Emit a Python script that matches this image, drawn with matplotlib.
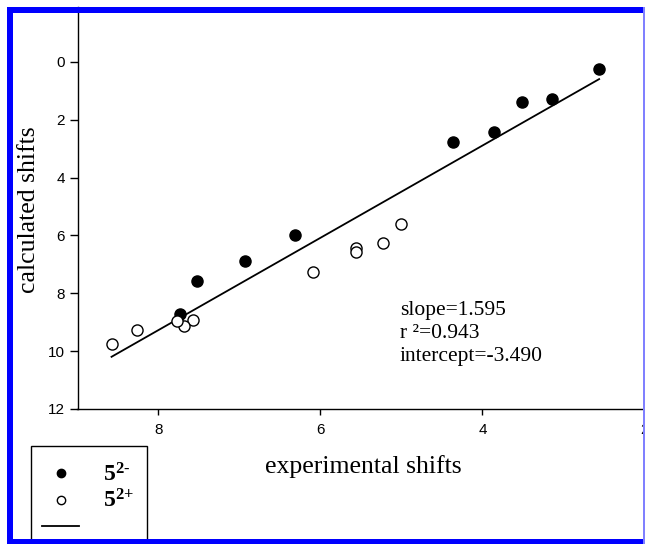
import numpy as np
import matplotlib
matplotlib.use("Agg")
import matplotlib.pyplot as plt
from matplotlib.lines import Line2D
from matplotlib.patches import Rectangle

# --- data ---
dianion_exp = [2.56, 3.14, 3.51, 3.86, 4.36, 6.31, 6.93, 7.53, 7.73]
dianion_calc = [0.23, 1.28, 1.38, 2.42, 2.78, 5.99, 6.89, 7.58, 8.72]

dication_exp = [5.00, 5.23, 5.56, 5.56, 6.09, 7.57, 7.68, 7.77, 8.27, 8.58]
dication_calc = [5.60, 6.27, 6.45, 6.56, 7.27, 8.92, 9.13, 8.97, 9.27, 9.75]

slope = 1.595
r_squared = 0.943
intercept = -3.490

x_ticks = [8, 6, 4, 2]
y_ticks = [0, 2, 4, 6, 8, 10, 12]

serif = "Liberation Serif"
plt.rcParams["mathtext.fontset"] = "custom"
plt.rcParams["mathtext.rm"] = serif
plt.rcParams["mathtext.bf"] = serif + ":bold"

W, H = 645, 544
fig = plt.figure(figsize=(W / 100, H / 100), dpi=100)
fig.patch.set_facecolor("white")

# axes placed in pixel terms of the reference
left, right = 77.5, 644.5
bottom, top = 409, 7
ax = fig.add_axes([left / W, 1 - bottom / H, (right - left) / W, (bottom - top) / H])

all_x = dianion_exp + dication_exp
fit_x = np.array([min(all_x), max(all_x)])
fit_y = slope * fit_x + intercept

ax.plot(fit_x, fit_y, color="black", lw=1.3, zorder=2)
ax.plot(dianion_exp, dianion_calc, "o", ms=8, mfc="black", mec="black", zorder=3)
ax.plot(dication_exp, dication_calc, "o", ms=8, mfc="white", mec="black", mew=1.0, zorder=3)

ax.set_xlim(9, 2)
ax.set_ylim(12, -1.9)
ax.set_xticks(x_ticks)
ax.set_yticks(y_ticks)

for s in ["top", "right"]:
    ax.spines[s].set_visible(False)
for s in ["left", "bottom"]:
    ax.spines[s].set_linewidth(1.0)

ax.tick_params(axis="y", direction="out", length=6, width=1, pad=3, labelsize=11)
ax.tick_params(axis="x", direction="out", length=4, width=1, pad=6, labelsize=11)
for lbl in ax.get_xticklabels() + ax.get_yticklabels():
    lbl.set_fontfamily("Liberation Sans")

fig.text(363 / W, 1 - 467 / H, "experimental shifts", family=serif, fontsize=18.5,
         ha="center", va="center")
fig.text(29 / W, 1 - 210 / H, "calculated shifts", family=serif, fontsize=18.5,
         ha="center", va="center", rotation=90)

stats = f"slope={slope}\nr \u00b2={r_squared}\nintercept={intercept:.3f}"
ax.text(400 / W, 1 - 301 / H, stats, transform=fig.transFigure, family=serif,
        fontsize=15.5, ha="left", va="top", linespacing=1.3)

# legend box (extends past the bottom of the crop)
fig.patches.append(Rectangle((31 / W, -0.05), (147 - 31) / W, 0.05 + (H - 446) / H,
                             transform=fig.transFigure, fill=False, ec="black", lw=1.0,
                             zorder=5))
handles = [
    Line2D([], [], ls="none", marker="o", ms=6, mfc="black", mec="black"),
    Line2D([], [], ls="none", marker="o", ms=6, mfc="white", mec="black", mew=1.0),
    Line2D([], [], color="black", lw=1.3),
]
labels = ["$\\mathbf{5^{2\u2010}}$", "$\\mathbf{5^{2{+}}}$", ""]
leg = fig.legend(handles, labels, loc="upper left",
                 bbox_to_anchor=(42 / W, 1 - 462 / H), frameon=False,
                 fontsize=17, handlelength=1.57, handletextpad=1.0,
                 labelspacing=0.12, borderpad=0, borderaxespad=0)

# blue frame of the cropped figure
blue = "#0000ff"
for x0, y0, w, h, c in [
    (7, 7, W - 7, 6, blue),          # top
    (7, 7, 6, H - 7, blue),          # left
    (7, H - 5, W - 7, 5, blue),      # bottom
    (643, 7, 2, H - 7, "#8080ff"),   # right
]:
    fig.patches.append(Rectangle((x0 / W, 1 - (y0 + h) / H), w / W, h / H,
                                 transform=fig.transFigure, fc=c, ec="none", zorder=10))

fig.savefig("out.png", dpi=100)
